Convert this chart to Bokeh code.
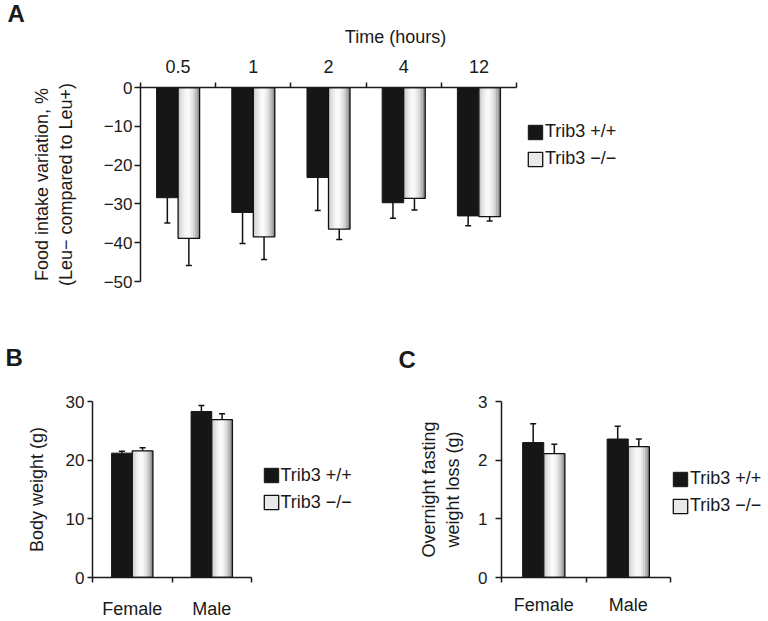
from bokeh.plotting import figure
from bokeh.models import (Range1d, LinearAxis, FixedTicker, Whisker,
                          TeeHead, ColumnDataSource, Legend, LegendItem)
from bokeh.transform import dodge
from bokeh.layouts import column, row
from bokeh.embed import file_html
from bokeh.resources import INLINE

# ---------------- data ----------------
legend_labels = ["Trib3 +/+", "Trib3 \u2212/\u2212"]

# Panel A: food intake variation (%)
a_times = ["0.5", "1", "2", "4", "12"]
a_wt = [-28.4, -32.2, -23.2, -29.7, -33.1]
a_wt_err = [6.5, 8.0, 8.5, 4.0, 2.5]
a_ko = [-38.9, -38.5, -36.5, -28.6, -33.3]
a_ko_err = [7.0, 5.8, 2.7, 3.0, 1.1]
a_yticks = [0, -10, -20, -30, -40, -50]

# Panel B: body weight (g)
b_sex = ["Female", "Male"]
b_wt = [21.2, 28.3]
b_wt_err = [0.3, 1.0]
b_ko = [21.6, 26.9]
b_ko_err = [0.5, 1.0]
b_yticks = [0, 10, 20, 30]

# Panel C: overnight fasting weight loss (g)
c_sex = ["Female", "Male"]
c_wt = [2.30, 2.36]
c_wt_err = [0.32, 0.22]
c_ko = [2.11, 2.23]
c_ko_err = [0.16, 0.13]
c_yticks = [0, 1, 2, 3]

# ---------------- style ----------------
FONT = "Liberation Sans"
INK = "#1a1a1a"
BLACK_BAR = "#161616"
KO_SHADES = ["#cdcdcd", "#dedede", "#ececec", "#f7f7f7", "#fbfbfb",
             "#f4f4f4", "#e6e6e6", "#d2d2d2", "#b5b5b5", "#8f8f8f"]


def fmt(t):
    return str(t).replace("-", "\u2212")


def panel(cats, wt, wt_err, ko, ko_err, yticks, ylo, yhi, W, H, borders, axis_px,
          off, bw, xloc, xlabel, ylabel, leg_xy, letter, letter_off, letter_stand,
          ytick_out, ystand, ylab_stand, xstand, xlab_stand):
    n = len(cats)
    bl, br, bt, bb = borders
    frame_w = W - bl - br
    # the frame also holds the legend; the category axis covers only axis_px pixels
    x_end = n * frame_w / axis_px
    p = figure(width=W, height=H, x_range=Range1d(0, x_end),
               y_range=Range1d(ylo, yhi), output_backend="svg", toolbar_location=None,
               x_axis_location=None, min_border_left=bl, min_border_right=br,
               min_border_top=bt, min_border_bottom=bb, title=letter)
    p.grid.grid_line_color = None
    p.outline_line_color = None
    p.background_fill_color = "white"
    p.border_fill_color = "white"
    p.title.align = "left"
    p.title.offset = letter_off
    p.title.standoff = letter_stand
    p.title.text_font = FONT
    p.title.text_font_size = "24px"
    p.title.text_font_style = "bold"
    p.title.text_color = INK

    centers = [i + 0.5 for i in range(n)]
    bounds = [float(i) for i in range(n + 1)]
    src = ColumnDataSource(dict(
        xc=centers, wt=wt, ko=ko,
        wt_lo=[v - e for v, e in zip(wt, wt_err)], wt_hi=[v + e for v, e in zip(wt, wt_err)],
        ko_lo=[v - e for v, e in zip(ko, ko_err)], ko_hi=[v + e for v, e in zip(ko, ko_err)]))

    r_wt = p.vbar(x=dodge("xc", -off), top="wt", width=bw, source=src,
                  fill_color=BLACK_BAR, line_color=BLACK_BAR, line_width=1)
    r_ko = p.vbar(x=dodge("xc", off), top="ko", width=bw, source=src,
                  fill_color="#e9e9e9", line_color=None)
    sw = bw / len(KO_SHADES)
    for k, c in enumerate(KO_SHADES):
        p.vbar(x=dodge("xc", off - bw / 2 + (k + 0.5) * sw), top="ko",
               width=sw * 1.1, source=src, fill_color=c, line_color=None)
    r_ol = p.vbar(x=dodge("xc", off), top="ko", width=bw, source=src,
                  fill_color=None, line_color="#111111", line_width=1.3)

    for field, o in (("wt", -off), ("ko", off)):
        p.add_layout(Whisker(base=dodge("xc", o), lower=f"{field}_lo",
                             upper=f"{field}_hi", source=src, line_color="#111111", line_width=1.5,
                             upper_head=TeeHead(size=6, line_color="#111111", line_width=1.5),
                             lower_head=TeeHead(size=6, line_color="#111111", line_width=1.5)))

    # y axis
    yax = p.yaxis[0]
    yax.ticker = FixedTicker(ticks=yticks)
    yax.major_label_overrides = {t: fmt(t) for t in yticks}
    yax.minor_tick_line_color = None
    yax.major_tick_out = ytick_out
    yax.major_tick_in = 0
    yax.major_label_standoff = ystand
    yax.axis_label = ylabel
    yax.axis_label_standoff = ylab_stand
    # x axis (ticks at category boundaries, labels at centres)
    xax = LinearAxis(ticker=FixedTicker(ticks=centers, minor_ticks=bounds),
                     major_label_overrides=dict(zip(centers, cats)),
                     major_tick_out=0, major_tick_in=0, minor_tick_out=5, minor_tick_in=0,
                     major_label_standoff=xstand, bounds=(0, n))
    if xlabel:
        xax.axis_label = xlabel
        xax.axis_label_standoff = xlab_stand
    p.add_layout(xax, xloc)

    for ax in (yax, xax):
        ax.axis_line_color = INK
        ax.axis_line_width = 1.5
        ax.major_tick_line_color = INK
        ax.major_tick_line_width = 1.5
        ax.minor_tick_line_width = 1.5
        ax.major_label_text_font = FONT
        ax.major_label_text_font_size = "17px"
        ax.major_label_text_color = INK
        ax.axis_label_text_font = FONT
        ax.axis_label_text_font_size = "18px"
        ax.axis_label_text_font_style = "normal"
        ax.axis_label_text_color = INK
    xax.minor_tick_line_color = INK
    xax.major_label_text_font_size = "18px"

    leg = Legend(items=[LegendItem(label=legend_labels[0], renderers=[r_wt]),
                        LegendItem(label=legend_labels[1], renderers=[r_ko, r_ol])],
                 location=leg_xy, orientation="vertical",
                 glyph_width=18, glyph_height=18, label_height=18, label_standoff=1,
                 spacing=6, padding=0, margin=0, border_line_color=None,
                 background_fill_alpha=0, label_text_font=FONT,
                 label_text_font_size="18px", label_text_color=INK)
    p.add_layout(leg)
    return p


pA = panel(a_times, a_wt, a_wt_err, a_ko, a_ko_err, a_yticks, -50, 0,
           768, 300, (140, 118, 86, 19), 376, 0.143, 0.286, "above", "Time (hours)",
           "Food intake variation, %\n(Leu\u2212 compared to Leu+)",
           (386, 112), "A", -133, -6, 6, 2, 25, 10, 10)

pB = panel(b_sex, b_wt, b_wt_err, b_ko, b_ko_err, b_yticks, 0, 30,
           390, 321, (92, 20, 101, 40), 159, 0.13, 0.26, "below", None,
           "Body weight (g)", (169.5, 64.5), "B", -87, 61, 5, 3, 16, 16, 0)

pC = panel(c_sex, c_wt, c_wt_err, c_ko, c_ko_err, c_yticks, 0, 3,
           378, 321, (111, 2, 98, 42), 169, 0.125, 0.25, "below", None,
           "Overnight fasting\nweight loss (g)", (170, 61), "C", -103, 57, 6, 8, 12, 12, 0)

layout = column(pA, row(pB, pC))

open("out.html", "w").write(file_html(layout, INLINE))
